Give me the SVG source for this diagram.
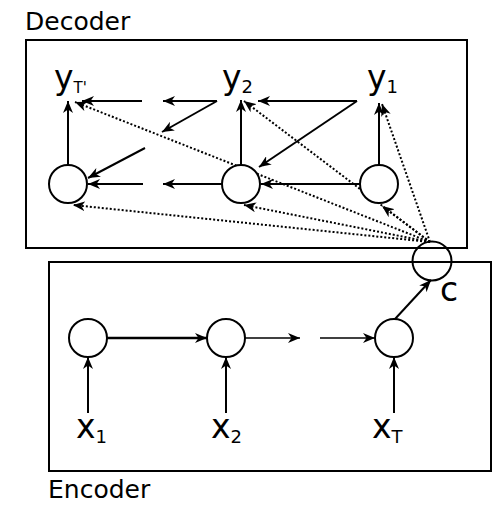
<svg xmlns="http://www.w3.org/2000/svg" width="504" height="513" viewBox="0 0 504 513">
<defs>
<marker id="ah" viewBox="0 0 12 10" refX="12" refY="5" markerWidth="12" markerHeight="10" markerUnits="userSpaceOnUse" orient="auto">
<path d="M0,0 L12,5 L0,10 L3.5,5 z" fill="#000"/>
</marker>
<style>
.box{fill:none;stroke:#000;stroke-width:2}
.node{fill:#fff;stroke:#000;stroke-width:2}
.e{fill:none;stroke:#000;stroke-width:2;marker-end:url(#ah)}
.d{fill:none;stroke:#000;stroke-width:2;stroke-dasharray:2 2;marker-end:url(#ah)}
text{font-family:"DejaVu Sans","Liberation Sans",sans-serif;fill:#000}
.lbl{font-size:25px}
.v{font-size:33px}
.s{font-size:18px}
</style>
</defs>
<rect width="504" height="513" fill="#fff"/>
<g id="decoder-box">
<rect class="box" x="26" y="40" width="441" height="208"/>
<text class="lbl" x="25" y="30">Decoder</text>
</g>
<g id="encoder-box">
<rect class="box" x="49" y="262" width="442" height="209"/>
<text class="lbl" x="48" y="498">Encoder</text>
</g>
<g id="connectors">
<line class="e" x1="68" y1="165" x2="68" y2="101"/>
<line class="e" x1="241" y1="165" x2="241" y2="100"/>
<line class="e" x1="379" y1="165" x2="379" y2="103"/>
<line class="e" x1="142" y1="101" x2="82" y2="101"/>
<line class="e" x1="217" y1="101" x2="163" y2="101"/>
<line class="e" x1="357" y1="101" x2="258" y2="101"/>
<line class="e" x1="357" y1="101" x2="259" y2="167"/>
<line class="e" x1="217" y1="101" x2="162" y2="132"/>
<line class="e" x1="145" y1="148" x2="88" y2="178"/>
<line class="e" x1="143" y1="184" x2="88" y2="184"/>
<line class="e" x1="222" y1="184" x2="163" y2="184"/>
<line class="e" x1="360" y1="184" x2="261" y2="184"/>
<line class="d" x1="430" y1="242" x2="75" y2="102"/>
<line class="d" x1="430" y1="242" x2="244" y2="101"/>
<line class="d" x1="430" y1="242" x2="382" y2="104"/>
<line class="d" x1="430" y1="242" x2="73" y2="205"/>
<line class="d" x1="430" y1="242" x2="244" y2="205"/>
<line class="d" x1="430" y1="242" x2="382" y2="206"/>
<line class="e" style="stroke-width:2.5" x1="107" y1="338" x2="207" y2="338"/>
<line class="e" style="stroke-width:1.5" x1="245" y1="338" x2="300" y2="338"/>
<line class="e" style="stroke-width:1.5" x1="320" y1="338" x2="375" y2="338"/>
<line class="e" x1="88" y1="413" x2="88" y2="357"/>
<line class="e" x1="226" y1="413" x2="226" y2="357"/>
<line class="e" x1="394" y1="413" x2="394" y2="357"/>
<line class="e" x1="395" y1="319" x2="431" y2="280"/>
</g>
<g id="yT"><text class="v" x="54" y="89">y<tspan class="s" style="font-size:15px" dy="4">T'</tspan></text></g>
<g id="y2"><text class="v" x="222" y="89">y<tspan class="s" dy="4">2</tspan></text></g>
<g id="y1"><text class="v" x="367" y="89">y<tspan class="s" dy="4">1</tspan></text></g>
<g id="s1"><circle class="node" cx="68" cy="184" r="19"/></g>
<g id="s2"><circle class="node" cx="241" cy="184" r="19"/></g>
<g id="s3"><circle class="node" cx="379" cy="184" r="19"/></g>
<g id="c"><circle class="node" cx="432" cy="261" r="19.5" style="fill:none"/><text class="v" x="440" y="301">c</text></g>
<g id="h1"><circle class="node" cx="88" cy="338" r="19"/></g>
<g id="h2"><circle class="node" cx="226" cy="338" r="19"/></g>
<g id="h3"><circle class="node" cx="394" cy="338" r="19"/></g>
<g id="x1"><text class="v" x="76" y="438">x<tspan class="s" dy="5">1</tspan></text></g>
<g id="x2"><text class="v" x="211" y="438">x<tspan class="s" dy="5">2</tspan></text></g>
<g id="xT"><text class="v" x="372" y="438">x<tspan class="s" dy="5">T</tspan></text></g>
</svg>
